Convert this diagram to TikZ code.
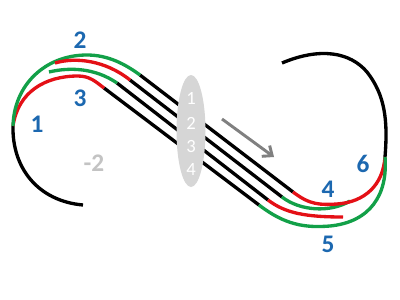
\documentclass[tikz,border=0pt]{standalone}
\usepackage{fontspec}
\setmainfont{Carlito}
\usetikzlibrary{arrows.meta,shapes.geometric}
\definecolor{tgreen}{RGB}{18,160,72}
\definecolor{tred}{RGB}{228,16,22}
\definecolor{tblue}{RGB}{28,104,176}
\definecolor{tgray}{RGB}{128,128,128}
\definecolor{lgray}{RGB}{195,195,195}
\definecolor{egray}{RGB}{214,214,214}
\begin{document}
\begin{tikzpicture}[x=0.75pt,y=-0.75pt,
  trk/.style={line width=2.5pt},
  blk/.style={trk,black},
  grn/.style={trk,tgreen},
  rd/.style={trk,tred},
  lbl/.style={text=tblue,font=\fontsize{19}{22}\selectfont\bfseries,inner sep=0pt},
  enum/.style={text=white,font=\fontsize{14}{16}\selectfont,inner sep=0pt}]
\useasboundingbox (0,0) rectangle (400,300);
% junction coordinates
\coordinate (j1) at (13,126);
\coordinate (j6) at (385,157);
\coordinate (lb) at (83,205);
\coordinate (rt) at (282,63);
\coordinate (a1) at (140,75);  \coordinate (a2) at (293,192);
\coordinate (b0) at (55,63);   \coordinate (b1) at (130,80);  \coordinate (b2) at (282,197); \coordinate (b3) at (350,201);
\coordinate (c0) at (49,72);   \coordinate (c1) at (117,83);  \coordinate (c2) at (268,200); \coordinate (c3) at (343,217);
\coordinate (d1) at (104,88);  \coordinate (d2) at (259,205);
% outer black arcs
\draw[blk] (j1) .. controls (12,168) and (38,201) .. (lb);
\draw[blk] (j6) .. controls (388,120) and (385,95) .. (367,72) .. controls (350,52) and (320,47) .. (rt);
% straight black lines
\draw[blk] (a1) -- (a2);
\draw[blk] (b1) -- (b2);
\draw[blk] (c1) -- (c2);
\draw[blk] (d1) -- (d2);
% left coloured curves
\draw[rd] (j1) .. controls (18,92) and (45,76) .. (78,76) .. controls (90,76) and (96,82) .. (d1);
\draw[grn] (j1) .. controls (14,85) and (45,55) .. (87,55) .. controls (108,55) and (125,64) .. (a1);
\draw[rd] (b0) .. controls (75,57) and (105,60) .. (b1);
\draw[grn] (c0) .. controls (70,67) and (95,68) .. (c1);
% right coloured curves
\draw[grn] (b2) .. controls (300,211) and (330,213) .. (b3);
\draw[rd] (a2) .. controls (310,205) and (320,205) .. (337,204) .. controls (365,202) and (383,185) .. (j6);
\draw[rd] (c2) .. controls (285,213) and (305,217) .. (c3);
\draw[grn] (d2) .. controls (285,225) and (305,228) .. (330,226) .. controls (370,222) and (388,195) .. (j6);
% ellipse with numbers
\node[draw=none,fill=egray,ellipse,minimum width=21.75pt,minimum height=84pt,inner sep=0pt] (ell) at (191,131) {};
\node[enum] (e1) at (191,98) {1};
\node[enum] (e2) at (191,123) {2};
\node[enum] (e3) at (191,147) {3};
\node[enum] (e4) at (191,170) {4};
% direction arrow
\coordinate (ar0) at (222,119);
\coordinate (ar1) at (274,157);
\draw[tgray,line width=2.2pt,-{Straight Barb[length=6pt,width=10pt]}] (ar0) -- (ar1);
% labels
\node[lbl] (l2) at (80,40) {2};
\node[lbl] (l3) at (80,98) {3};
\node[lbl] (l1) at (37,124) {1};
\node[lbl,text=lgray] (lm2) at (94,163) {-2};
\node[lbl] (l4) at (328,189) {4};
\node[lbl] (l6) at (363,164) {6};
\node[lbl] (l5) at (328,244) {5};
\end{tikzpicture}
\end{document}
